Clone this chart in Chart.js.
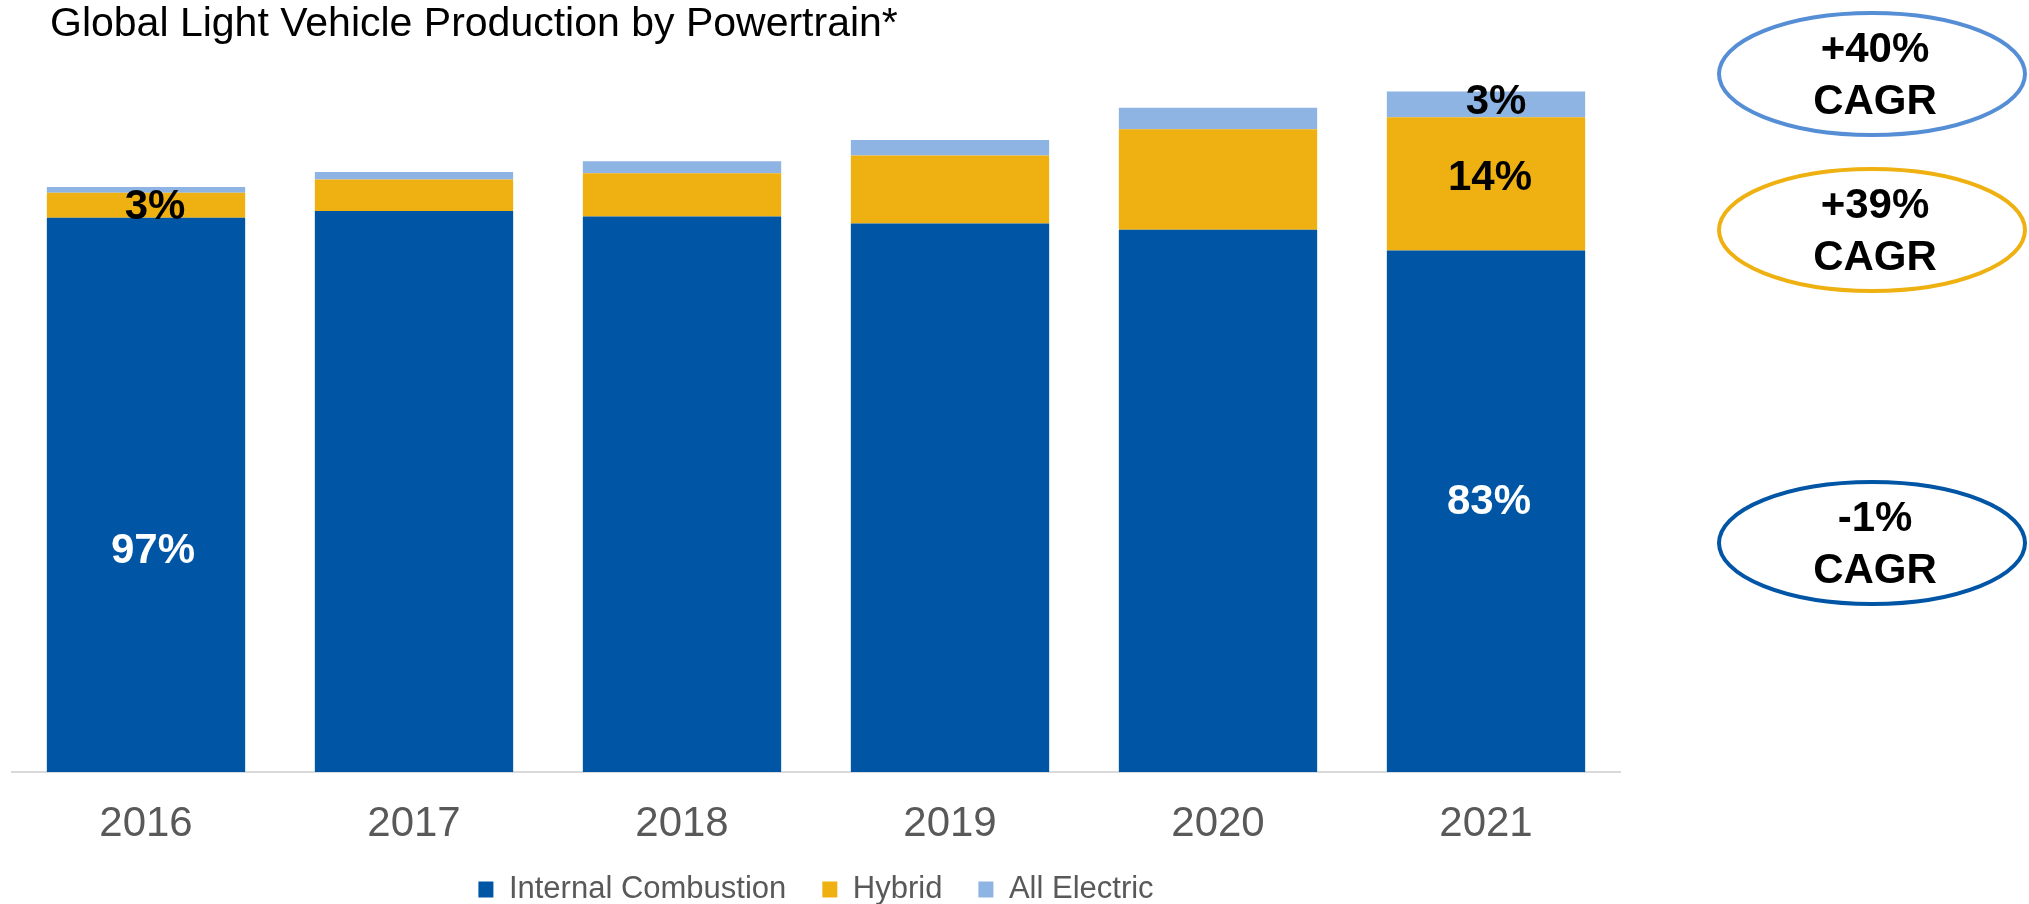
<!DOCTYPE html>
<html>
<head>
<meta charset="utf-8">
<title>Global Light Vehicle Production by Powertrain</title>
<script src="https://cdn.jsdelivr.net/npm/chart.js@4.4.1/dist/chart.umd.min.js"></script>
<style>
  html, body { margin: 0; padding: 0; background: #fff; }
  canvas { display: block; }
</style>
</head>
<body>
<canvas id="chart" width="2029" height="904"></canvas>
<script>
// ————— Data (million vehicles) —————
const years    = ['2016', '2017', '2018', '2019', '2020', '2021'];
const ice      = [88.2, 89.3, 88.4, 87.3, 86.3, 83.0];
const hybrid   = [4.0, 5.0, 6.9, 10.8, 16.0, 21.2];
const electric = [0.9, 1.2, 1.9, 2.5, 3.4, 4.1];

const seriesNames = ['Internal Combustion', 'Hybrid', 'All Electric'];
const colors      = ['#0055A5', '#EEB111', '#8EB4E3'];

// share labels: dataset, category, text
const shareLabels = [
  { ds: 0, i: 0, text: '97%', color: '#fff', dx: 7, dy: 57 },
  { ds: 1, i: 0, text: '3%',  color: '#000', dx: 9, dy: 2 },
  { ds: 0, i: 5, text: '83%', color: '#fff', dx: 3, dy: -9 },
  { ds: 1, i: 5, text: '14%', color: '#000', dx: 4, dy: -5 },
  { ds: 2, i: 5, text: '3%',  color: '#000', dx: 10, dy: -2 }
];

// CAGR callouts (top to bottom)
const cagrText   = ['+40%', '+39%', '-1%'];
const cagrColors = ['#558ED5', '#EEB111', '#0055A5'];
const cagrY      = [74, 230, 543];

const FONT = "'Liberation Sans', Arial, sans-serif";

// ————— Plugins —————
const titlePlugin = {
  id: 'titleText',
  afterDraw(chart) {
    const ctx = chart.ctx;
    ctx.save();
    ctx.font = `41px ${FONT}`;
    ctx.fillStyle = '#000';
    ctx.textAlign = 'left';
    ctx.textBaseline = 'alphabetic';
    ctx.fillText('Global Light Vehicle Production by Powertrain*', 50, 36);
    ctx.restore();
  }
};

const sharePlugin = {
  id: 'shareLabels',
  afterDatasetsDraw(chart) {
    const ctx = chart.ctx;
    ctx.save();
    ctx.font = `bold 42px ${FONT}`;
    ctx.textAlign = 'center';
    ctx.textBaseline = 'middle';
    shareLabels.forEach(l => {
      const bar = chart.getDatasetMeta(l.ds).data[l.i];
      ctx.fillStyle = l.color;
      ctx.fillText(l.text, bar.x + l.dx, (bar.y + bar.base) / 2 + l.dy);
    });
    ctx.restore();
  }
};

const cagrPlugin = {
  id: 'cagr',
  afterDraw(chart) {
    const ctx = chart.ctx;
    const cx = 1872, rx = 153, ry = 61;
    ctx.save();
    cagrText.forEach((t, k) => {
      const cy = cagrY[k];
      ctx.beginPath();
      ctx.ellipse(cx, cy, rx, ry, 0, 0, Math.PI * 2);
      ctx.lineWidth = 4;
      ctx.strokeStyle = cagrColors[k];
      ctx.stroke();
      ctx.font = `bold 42px ${FONT}`;
      ctx.fillStyle = '#000';
      ctx.textAlign = 'center';
      ctx.textBaseline = 'middle';
      ctx.fillText(t, cx + 3, cy - 24);
      ctx.fillText('CAGR', cx + 3, cy + 28);
    });
    ctx.restore();
  }
};

// ————— Chart —————
const datasets = [ice, hybrid, electric].map((d, k) => ({
  label: seriesNames[k],
  data: d,
  backgroundColor: colors[k],
  borderWidth: 0,
  categoryPercentage: 1,
  barPercentage: 0.74
}));

new Chart(document.getElementById('chart'), {
  type: 'bar',
  data: { labels: years, datasets },
  options: {
    responsive: false,
    animation: false,
    layout: { padding: { left: 12, right: 409, top: 18, bottom: -11 } },
    plugins: {
      title: { display: false },
      tooltip: { enabled: false },
      legend: {
        position: 'bottom',
        labels: {
          boxWidth: 15,
          boxHeight: 16,
          padding: 36,
          color: '#595959',
          font: { family: FONT, size: 31 }
        }
      }
    },
    scales: {
      x: {
        stacked: true,
        grid: { display: false, drawTicks: false },
        border: { color: '#D9D9D9', width: 2 },
        ticks: { color: '#595959', padding: 27, font: { family: FONT, size: 42 } },
        afterFit(scale) { scale.height = 66; }
      },
      y: {
        stacked: true,
        display: false,
        min: 0,
        max: 120
      }
    }
  },
  plugins: [titlePlugin, sharePlugin, cagrPlugin]
});
</script>
</body>
</html>
